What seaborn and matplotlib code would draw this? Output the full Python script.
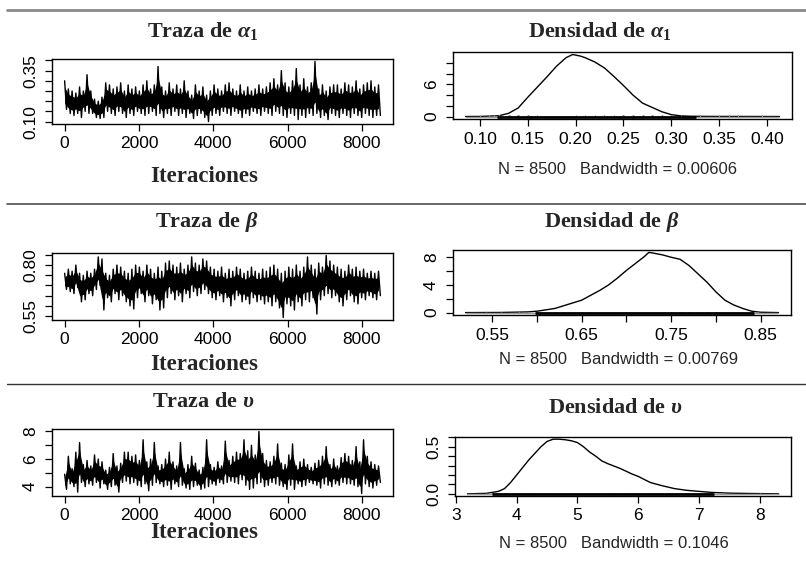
import numpy as np
import matplotlib
matplotlib.use('Agg')
import matplotlib.pyplot as plt
from matplotlib.lines import Line2D
import seaborn as sns

# envelope of each trace, one high and one low value per block of 100 iterations
alpha_hi = [0.30, 0.26, 0.25, 0.24, 0.27, 0.25, 0.33, 0.25, 0.21, 0.20,
            0.22, 0.29, 0.28, 0.26, 0.27, 0.29, 0.25, 0.28, 0.26, 0.27,
            0.25, 0.28, 0.30, 0.26, 0.28, 0.37, 0.27, 0.25, 0.29, 0.26,
            0.28, 0.26, 0.30, 0.25, 0.23, 0.28, 0.25, 0.27, 0.23, 0.25,
            0.28, 0.26, 0.25, 0.28, 0.29, 0.26, 0.25, 0.28, 0.25, 0.27,
            0.25, 0.26, 0.28, 0.26, 0.27, 0.29, 0.31, 0.28, 0.35, 0.29,
            0.27, 0.30, 0.36, 0.28, 0.31, 0.27, 0.29, 0.395, 0.26, 0.28,
            0.25, 0.27, 0.28, 0.28, 0.26, 0.29, 0.28, 0.27, 0.30, 0.26,
            0.28, 0.29, 0.30, 0.27, 0.28]
alpha_lo = [0.16, 0.14, 0.13, 0.14, 0.12, 0.15, 0.14, 0.14, 0.12, 0.115,
            0.12, 0.15, 0.14, 0.13, 0.15, 0.14, 0.12, 0.14, 0.13, 0.15,
            0.14, 0.13, 0.14, 0.15, 0.13, 0.14, 0.12, 0.14, 0.13, 0.15,
            0.13, 0.14, 0.12, 0.14, 0.115, 0.13, 0.14, 0.12, 0.10, 0.13,
            0.14, 0.13, 0.15, 0.14, 0.13, 0.15, 0.14, 0.12, 0.14, 0.13,
            0.15, 0.14, 0.13, 0.15, 0.14, 0.13, 0.15, 0.14, 0.13, 0.12,
            0.14, 0.13, 0.11, 0.13, 0.12, 0.14, 0.13, 0.14, 0.12, 0.13,
            0.11, 0.14, 0.13, 0.12, 0.14, 0.13, 0.12, 0.14, 0.13, 0.12,
            0.14, 0.13, 0.12, 0.13, 0.13]

beta_hi = [0.76, 0.78, 0.77, 0.80, 0.76, 0.75, 0.77, 0.76, 0.78, 0.84,
           0.83, 0.76, 0.75, 0.78, 0.80, 0.79, 0.77, 0.76, 0.78, 0.80,
           0.79, 0.77, 0.80, 0.78, 0.76, 0.79, 0.77, 0.81, 0.82, 0.80,
           0.79, 0.81, 0.78, 0.80, 0.84, 0.81, 0.80, 0.83, 0.82, 0.79,
           0.78, 0.77, 0.79, 0.76, 0.78, 0.77, 0.79, 0.78, 0.76, 0.77,
           0.79, 0.77, 0.76, 0.78, 0.77, 0.79, 0.80, 0.78, 0.76, 0.77,
           0.79, 0.78, 0.80, 0.77, 0.79, 0.84, 0.80, 0.78, 0.81, 0.79,
           0.847, 0.82, 0.80, 0.79, 0.78, 0.77, 0.80, 0.78, 0.79, 0.77,
           0.78, 0.76, 0.77, 0.76, 0.77]
beta_lo = [0.68, 0.67, 0.66, 0.69, 0.62, 0.63, 0.66, 0.65, 0.68, 0.70,
           0.58, 0.64, 0.62, 0.66, 0.63, 0.65, 0.62, 0.60, 0.585, 0.64,
           0.66, 0.62, 0.65, 0.61, 0.63, 0.58, 0.59, 0.64, 0.66, 0.63,
           0.65, 0.62, 0.66, 0.64, 0.67, 0.65, 0.66, 0.68, 0.66, 0.64,
           0.63, 0.65, 0.62, 0.64, 0.60, 0.63, 0.65, 0.62, 0.63, 0.61,
           0.64, 0.62, 0.63, 0.61, 0.62, 0.60, 0.62, 0.59, 0.543, 0.61,
           0.60, 0.58, 0.62, 0.60, 0.63, 0.62, 0.64, 0.56, 0.63, 0.65,
           0.66, 0.64, 0.65, 0.62, 0.60, 0.63, 0.65, 0.62, 0.61, 0.64,
           0.63, 0.65, 0.64, 0.63, 0.65]

nu_hi = [4.9, 6.2, 5.3, 6.5, 7.2, 5.6, 5.9, 5.5, 6.3, 6.0,
         5.8, 5.2, 5.4, 6.4, 5.5, 5.7, 6.5, 6.5, 6.2, 6.3,
         5.9, 7.4, 5.8, 6.0, 7.2, 5.5, 5.6, 6.0, 6.5, 5.8,
         5.5, 7.2, 5.3, 5.6, 6.2, 5.7, 5.2, 5.4, 7.4, 5.6,
         5.4, 5.8, 5.5, 7.3, 5.9, 6.2, 6.5, 6.4, 7.4, 6.6,
         7.0, 6.3, 8.0, 6.4, 5.9, 5.8, 6.2, 7.1, 5.7, 5.6,
         6.3, 7.1, 5.5, 5.8, 6.0, 5.6, 5.4, 5.7, 5.9, 6.2,
         6.9, 5.6, 6.0, 5.5, 6.1, 6.4, 6.2, 5.9, 6.9, 5.8,
         7.4, 6.2, 5.8, 5.6, 5.5]
nu_lo = [3.8, 4.2, 4.0, 3.6, 4.3, 4.0, 4.2, 4.1, 4.3, 3.9,
         4.2, 3.8, 4.0, 4.1, 3.6, 4.3, 4.4, 4.2, 4.3, 4.1,
         4.0, 4.2, 3.7, 4.1, 4.3, 4.2, 4.0, 4.1, 3.8, 4.2,
         4.0, 4.1, 3.9, 3.8, 4.0, 4.1, 3.8, 3.9, 4.0, 4.2,
         4.1, 4.3, 4.2, 4.3, 4.4, 4.3, 4.2, 4.5, 4.1, 3.8,
         3.9, 4.2, 4.3, 4.0, 4.1, 4.3, 4.2, 4.1, 4.0, 3.8,
         4.1, 3.8, 4.2, 4.0, 4.1, 4.3, 4.2, 4.1, 3.9, 4.2,
         4.1, 4.0, 4.2, 4.1, 4.3, 4.2, 4.2, 4.1, 4.0, 3.5,
         4.2, 4.0, 3.9, 4.1, 4.3]

# density curves
alpha_dens_x = [0.085, 0.10, 0.12, 0.13, 0.14, 0.15, 0.16, 0.17, 0.18, 0.19, 0.197,
                0.205, 0.21, 0.22, 0.23, 0.24, 0.25, 0.26, 0.27, 0.28, 0.29, 0.30,
                0.31, 0.32, 0.34, 0.37, 0.413]
alpha_dens_y = [0.0, 0.01, 0.15, 0.6, 1.6, 3.6, 5.5, 7.4, 9.4, 11.0, 11.6,
                11.3, 11.0, 10.2, 9.1, 7.5, 5.8, 4.0, 2.5, 1.7, 0.9, 0.35,
                0.12, 0.05, 0.02, 0.01, 0.0]
beta_dens_x = [0.52, 0.56, 0.59, 0.60, 0.62, 0.64, 0.65, 0.66, 0.67, 0.68, 0.69, 0.70,
               0.71, 0.72, 0.725, 0.73, 0.74, 0.75, 0.76, 0.77, 0.78, 0.79, 0.80,
               0.81, 0.82, 0.83, 0.84, 0.85, 0.87]
beta_dens_y = [0.0, 0.02, 0.1, 0.2, 0.6, 1.4, 1.8, 2.5, 3.2, 4.0, 5.0, 6.1,
               7.1, 8.1, 8.7, 8.6, 8.35, 8.0, 7.7, 6.8, 5.6, 4.4, 3.0,
               1.8, 1.1, 0.6, 0.2, 0.05, 0.0]
nu_dens_x = [3.19, 3.5, 3.7, 3.8, 3.9, 4.0, 4.1, 4.2, 4.3, 4.4, 4.5, 4.6, 4.7, 4.8,
             4.9, 5.0, 5.1, 5.2, 5.3, 5.4, 5.5, 5.7, 5.9, 6.0, 6.2, 6.4, 6.6, 6.8,
             7.0, 7.2, 7.5, 8.0, 8.31]
nu_dens_y = [0.0, 0.005, 0.026, 0.055, 0.12, 0.20, 0.28, 0.36, 0.43, 0.50, 0.556, 0.58,
             0.58, 0.574, 0.563, 0.544, 0.50, 0.444, 0.40, 0.35, 0.32, 0.27, 0.21,
             0.185, 0.12, 0.085, 0.055, 0.037, 0.026, 0.015, 0.007, 0.002, 0.0]

# stretch of x where the observation marks under each density merge into a solid line
rug_alpha = (0.118, 0.326)
rug_beta = (0.598, 0.843)
rug_nu = (3.6, 7.25)

n_iter = 8500
bandwidths = ['0.00606', '0.00769', '0.1046']
simbolos = [r'$\alpha_\mathrm{1}$', r'$\beta$', r'$\upsilon$']

sns.set_theme(style='ticks')
plt.rcParams['font.family'] = ['Liberation Sans', 'DejaVu Sans']
plt.rcParams['mathtext.fontset'] = 'custom'
plt.rcParams['mathtext.rm'] = 'Liberation Serif:bold'
plt.rcParams['mathtext.it'] = 'Liberation Serif:italic:bold'
plt.rcParams['mathtext.bf'] = 'Liberation Serif:bold'

W, H = 806, 565
fig = plt.figure(figsize=(W / 100, H / 100), dpi=100)


def add_box(l, t, r, b):
    return fig.add_axes([l / W, 1 - b / H, (r - l) / W, (b - t) / H])


def style(ax, xt, xl, yt, yl):
    ax.set_xticks(xt)
    ax.set_xticklabels(xl)
    ax.set_yticks(yt)
    ax.set_yticklabels(yl, rotation=90, va='center')
    ax.tick_params(axis='both', direction='out', length=5, width=0.9,
                   labelsize=12.5, colors='black')
    ax.tick_params(axis='x', pad=4)
    ax.tick_params(axis='y', pad=5)
    for s in ax.spines.values():
        s.set_color('black')
        s.set_linewidth(1.0)
    ax.set_xlabel('')
    ax.set_ylabel('')


def interleave(hi, lo):
    return np.column_stack([hi, lo]).ravel()


envolventes = [(np.array(alpha_hi), np.array(alpha_lo)),
               (np.array(beta_hi), np.array(beta_lo)),
               (np.array(nu_hi), np.array(nu_lo))]
trazas = [interleave(hi, lo) for hi, lo in envolventes]
densidades = [(alpha_dens_x, alpha_dens_y), (beta_dens_x, beta_dens_y), (nu_dens_x, nu_dens_y)]
rugs = [rug_alpha, rug_beta, rug_nu]

# layout of the panels in pixels (left, top, right, bottom)
trace_boxes = [(52, 59, 393, 124), (52, 253, 393, 320), (52, 429, 393, 496)]
dens_boxes = [(453, 52, 792, 119), (453, 250, 791, 315), (455, 437, 791, 496)]

trace_yt = [[0.10, 0.15, 0.20, 0.25, 0.30, 0.35, 0.40],
            [0.55, 0.60, 0.65, 0.70, 0.75, 0.80, 0.85],
            [4, 5, 6, 7, 8]]
trace_yl = [['0.10', '', '', '', '', '0.35', ''],
            ['0.55', '', '', '', '', '0.80', ''],
            ['4', '', '6', '', '8']]
dens_xt = [[0.10, 0.15, 0.20, 0.25, 0.30, 0.35, 0.40],
           [0.55, 0.60, 0.65, 0.70, 0.75, 0.80, 0.85],
           [3, 4, 5, 6, 7, 8]]
dens_xl = [['0.10', '0.15', '0.20', '0.25', '0.30', '0.35', '0.40'],
           ['0.55', '', '0.65', '', '0.75', '', '0.85'],
           ['3', '4', '5', '6', '7', '8']]
dens_yt = [[0, 2, 4, 6, 8, 10], [0, 2, 4, 6, 8], [0.0, 0.1, 0.2, 0.3, 0.4, 0.5, 0.6]]
dens_yl = [['0', '', '', '6', '', ''], ['0', '', '4', '', '8'],
           ['0.0', '', '', '', '', '0.5', '']]

trace_title_xy = [(203, 31), (207, 222), (203, 402)]
dens_title_xy = [(600, 31), (612, 222), (615, 408)]
xlabel_y = [176, 365, 533]
bw_xy = [(617, 170), (619, 360), (614, 543)]

iteraciones = np.linspace(0, n_iter, len(trazas[0]))
bloques = iteraciones[::2]

for i in range(3):
    ax = add_box(*trace_boxes[i])
    hi, lo = envolventes[i]
    # dense core of the chain; the spikes come from the zigzag line drawn over it
    ancho = hi - lo
    ax.fill_between(bloques, lo + 0.22 * ancho, hi - 0.22 * ancho, color='black', linewidth=0)
    sns.lineplot(x=iteraciones, y=trazas[i], ax=ax, color='black', linewidth=1.0,
                 sort=False, estimator=None)
    ax.margins(x=0.04, y=0.04)
    style(ax, [0, 2000, 4000, 6000, 8000], ['0', '2000', '4000', '6000', '8000'],
          trace_yt[i], trace_yl[i])
    ax.set_ylim(min(trazas[i]) - 0.04 * np.ptp(trazas[i]), max(trazas[i]) + 0.04 * np.ptp(trazas[i]))

    axd = add_box(*dens_boxes[i])
    dx, dy = densidades[i]
    sns.lineplot(x=dx, y=dy, ax=axd, color='black', linewidth=1.0, sort=False, estimator=None)
    axd.hlines(0, dx[0], dx[-1], color='#9a9a9a', linewidth=1.0, zorder=3)
    axd.vlines(trazas[i], 0, max(dy) / 60, color='#8c8c8c', linewidth=0.8, zorder=3)
    axd.hlines(0, rugs[i][0], rugs[i][1], color='black', linewidth=2.0, zorder=4)
    axd.margins(x=0.04, y=0.04)
    style(axd, dens_xt[i], dens_xl[i], dens_yt[i], dens_yl[i])
    axd.set_ylim(-0.04 * max(dy), max(dy) * 1.04)

    tx, ty = trace_title_xy[i]
    fig.text(tx / W, 1 - ty / H, 'Traza de ' + simbolos[i], ha='center', va='center',
             family='Liberation Serif', weight='bold', fontsize=16)
    tx, ty = dens_title_xy[i]
    fig.text(tx / W, 1 - ty / H, 'Densidad de ' + simbolos[i], ha='center', va='center',
             family='Liberation Serif', weight='bold', fontsize=16)
    fig.text(204 / W, 1 - xlabel_y[i] / H, 'Iteraciones', ha='center', va='center',
             family='Liberation Serif', weight='bold', fontsize=16.5)
    bx, by = bw_xy[i]
    fig.text(bx / W, 1 - by / H, 'N = %d   Bandwidth = %s' % (n_iter, bandwidths[i]),
             ha='center', va='center', fontsize=12)

# separator rules between the rows
for y, c, lw in [(10, '#8a8a8a', 2.0), (204, '#505050', 1.2), (384, '#333333', 1.0)]:
    fig.add_artist(Line2D([7 / W, 1], [1 - y / H, 1 - y / H], color=c, linewidth=lw,
                          transform=fig.transFigure))

fig.savefig('out.png', dpi=100)
